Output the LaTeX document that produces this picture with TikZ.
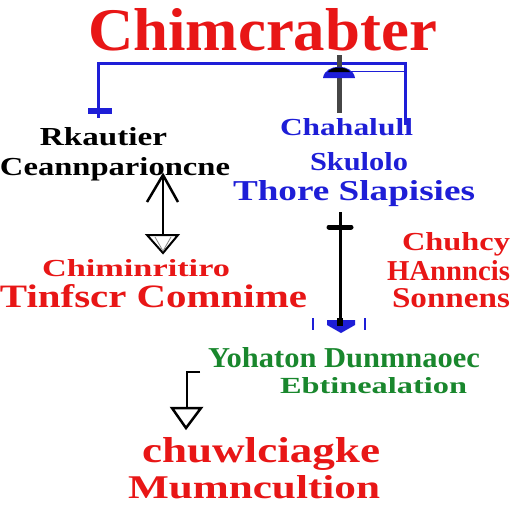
\documentclass[tikz,border=0pt]{standalone}
\usepackage{fontspec}
\setmainfont{Liberation Serif}
\usepackage{graphicx}
\definecolor{tred}{RGB}{232,22,22}
\definecolor{tblue}{RGB}{30,30,215}
\definecolor{tgreen}{RGB}{25,135,45}
\definecolor{tgray}{RGB}{70,70,70}
\newcommand{\fitw}[3]{\resizebox{#1pt}{#2pt}{\bfseries #3}}
\tikzset{
  txt/.style={anchor=base west, inner sep=0pt, outer sep=0pt},
  conn/.style={line width=2.5pt},
}
\begin{document}
\begin{tikzpicture}[x=1pt,y=-1pt]
\useasboundingbox (0,0) rectangle (512,512);
\clip (0,0) rectangle (512,512);
\fill[white] (0,0) rectangle (512,512);
% texts
\node[txt,text=tred] (title) at (88,50) {\fitw{349}{42}{Chimcrabter}};
\node[txt] (k1) at (40,145) {\fitw{127}{18}{Rkautier}};
\node[txt] (k2) at (0,175) {\fitw{230}{18}{Ceannparioncne}};
\node[txt,text=tred] (r1) at (42,276) {\fitw{188}{17}{Chiminritiro}};
\node[txt,text=tred] (r2) at (0,307) {\fitw{307}{23}{Tinfscr Comnime}};
\node[txt,text=tblue] (b1) at (280,135) {\fitw{133}{17}{Chahalull}};
\node[txt,text=tblue] (b2) at (310,170) {\fitw{98}{18}{Skulolo}};
\node[txt,text=tblue] (b3) at (233,200) {\fitw{242}{20}{Thore Slapisies}};
\node[txt,text=tred] (s1) at (402,250) {\fitw{108}{18}{Chuhcy}};
\node[txt,text=tred] (s2) at (387,280) {\fitw{123}{20}{HAnnncis}};
\node[txt,text=tred] (s3) at (392,307) {\fitw{118}{19}{Sonnens}};
\node[txt,text=tgreen] (g1) at (208,367) {\fitw{272}{20}{Yohaton Dunmnaoec}};
\node[txt,text=tgreen] (g2) at (280,393) {\fitw{187}{16}{Ebtinealation}};
\node[txt,text=tred] (m1) at (142,462) {\fitw{238}{25}{chuwlciagke}};
\node[txt,text=tred] (m2) at (128,498) {\fitw{252}{23}{Mumncultion}};
% coordinates
\coordinate (brL) at (98,108);
\coordinate (brT) at (405,63);
\coordinate (brR) at (405,125);
\coordinate (gTop) at (339,55);
\coordinate (gBot) at (339,113);
\coordinate (dUp) at (163,175);
\coordinate (dDn) at (163,235);
\coordinate (vTop) at (340,212);
\coordinate (vBot) at (340,322);
\coordinate (lA) at (200,372);
\coordinate (lB) at (187,372);
\coordinate (lC) at (187,408);
% blue bracket
\draw[tblue,line width=3pt] (brL) |- (brT) -- (brR);
\draw[tblue,line width=6pt] (88,111) -- (112,111);
\draw[tblue,line width=3pt] (brL) -- (98,118);
\draw[tblue,line width=1pt] (340,71) -- (405,71);
% gray vertical with dome
\draw[tgray,line width=5pt] (gTop) -- (gBot);
\fill[tblue] (323,78) .. controls (325,63) and (353,63) .. (355,78) -- cycle;
\fill[black] (328,72) .. controls (332,66) and (346,66) .. (350,72) -- cycle;
% double arrow
\draw[conn] (dUp) -- (dDn);
\draw[conn,line join=miter] (147,202) -- (dUp) -- (178,202);
\draw[line width=2pt,fill=white] (147,235) -- (178,235) -- (163,253) -- cycle;
\draw[line width=0.8pt,gray] (155,237) -- (163,251) -- (171,237);
% right vertical
\draw[line width=3pt] (vTop) -- (vBot);
\draw[line width=5pt,line cap=round] (329,227) -- (351,227);
\fill[tblue] (327,320) -- (355,320) -- (355,325) -- (341,333) -- (327,325) -- cycle;
\fill[black] (337,318) rectangle (343,326);
\draw[tblue,line width=2pt] (313,318) -- (313,330);
\draw[tblue,line width=2pt] (365,318) -- (365,330);
% L arrow
\draw[conn] (lA) -- (lB) -- (lC);
\draw[line width=2.5pt,fill=white,line join=miter] (172,408) -- (201,408) -- (186,428) -- cycle;
\end{tikzpicture}
\end{document}
